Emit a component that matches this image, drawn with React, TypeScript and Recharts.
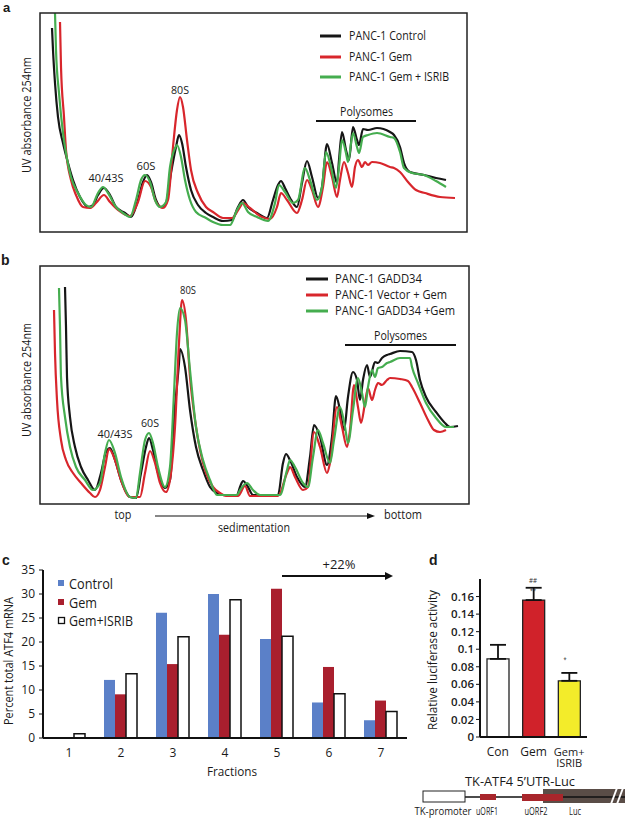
import React from 'react';
import { LineChart, Line, XAxis, YAxis, BarChart, Bar, Cell, ErrorBar } from 'recharts';

// ---------- Panel a: polysome profiles (position along gradient, absorbance, arbitrary units)
const aControl: [number, number][] = [
  [12, 204], [13, 182], [15, 149], [18, 115], [23, 89], [28, 69], [33, 52], [40, 35], [48, 25], [53, 27],
  [58, 37], [64, 44], [70, 37], [76, 25], [85, 19], [91, 15], [98, 32], [103, 50], [107, 57], [111, 50],
  [116, 32], [121, 25], [126, 29], [131, 59], [136, 85], [139, 97], [142, 89], [146, 65], [151, 42], [158, 27],
  [166, 19], [173, 15], [183, 11], [192, 12], [198, 25], [203, 32], [208, 25], [217, 19], [227, 14], [233, 32],
  [238, 47], [241, 51], [245, 44], [250, 34], [257, 25], [262, 49], [267, 71], [272, 55], [278, 34], [282, 45],
  [287, 88], [292, 69], [297, 49], [299, 72], [302, 100], [306, 82], [309, 72], [313, 105], [317, 92], [319, 87],
  [323, 103], [328, 102], [337, 104], [350, 100], [354, 97], [360, 85], [364, 69], [370, 60], [384, 57], [396, 54],
  [406, 52],
];
const aGem: [number, number][] = [
  [20, 210], [21, 165], [24, 115], [26, 82], [31, 52], [36, 37], [43, 25], [50, 24], [56, 29], [64, 37],
  [70, 30], [78, 22], [90, 16], [98, 30], [105, 51], [111, 45], [116, 30], [123, 24], [128, 32], [133, 85],
  [137, 122], [140, 135], [143, 125], [147, 92], [151, 62], [158, 39], [166, 25], [173, 20], [183, 14], [192, 14],
  [200, 25], [203, 29], [210, 24], [222, 15], [230, 13], [237, 25], [241, 39], [247, 32], [257, 19], [262, 32],
  [267, 52], [272, 42], [278, 25], [283, 45], [287, 70], [292, 55], [297, 35], [300, 52], [304, 70], [308, 59],
  [312, 45], [315, 65], [318, 72], [322, 65], [325, 70], [328, 67], [332, 70], [340, 69], [350, 65], [354, 64],
  [360, 60], [368, 50], [376, 42], [385, 39], [400, 35], [415, 34],
];
const aGemIsrib: [number, number][] = [
  [15, 219], [16, 182], [19, 139], [23, 99], [26, 79], [31, 55], [38, 39], [46, 27], [51, 25], [58, 39],
  [63, 45], [68, 39], [76, 25], [83, 19], [90, 15], [96, 32], [101, 52], [105, 57], [110, 50], [115, 32],
  [120, 25], [126, 30], [130, 65], [135, 84], [137, 87], [141, 75], [145, 52], [150, 32], [156, 20], [166, 14],
  [173, 10], [183, 7], [190, 7], [197, 22], [202, 29], [208, 20], [217, 15], [228, 11], [235, 29], [239, 47],
  [245, 40], [253, 29], [258, 32], [265, 64], [270, 52], [277, 32], [282, 45], [286, 80], [291, 65], [296, 44],
  [299, 65], [302, 92], [306, 79], [308, 70], [313, 99], [317, 85], [319, 79], [323, 95], [328, 97], [337, 99],
  [350, 95], [354, 94], [360, 80], [364, 64], [372, 59], [384, 57], [396, 51], [406, 45],
];

// ---------- Panel b
const bGadd34: [number, number][] = [
  [25, 217], [26, 177], [27, 127], [30, 87], [35, 57], [41, 37], [48, 24], [55, 14], [61, 31], [66, 52],
  [70, 56], [75, 44], [81, 24], [90, 7], [96, 6], [101, 31], [106, 57], [109, 66], [113, 54], [118, 31],
  [125, 16], [130, 24], [135, 97], [139, 141], [140, 155], [145, 137], [150, 94], [156, 57], [163, 34], [170, 17],
  [177, 11], [183, 9], [197, 9], [200, 17], [203, 23], [208, 17], [213, 9], [238, 9], [243, 41], [246, 50],
  [250, 44], [257, 27], [265, 17], [270, 47], [274, 79], [280, 67], [287, 39], [292, 67], [296, 108], [300, 94],
  [304, 74], [308, 107], [313, 132], [317, 124], [320, 104], [323, 124], [327, 139], [330, 127], [335, 142], [338, 141],
  [342, 146], [347, 149], [350, 150], [360, 153], [372, 152], [376, 144], [380, 124], [386, 107], [396, 92], [404, 82],
  [410, 77], [418, 78],
];
const bVectorGem: [number, number][] = [
  [14, 194], [15, 151], [17, 104], [21, 64], [26, 44], [33, 31], [41, 21], [50, 11], [55, 7], [60, 14],
  [65, 37], [69, 55], [75, 44], [81, 24], [90, 7], [100, 7], [105, 31], [110, 53], [115, 41], [120, 21],
  [126, 12], [131, 31], [135, 77], [139, 161], [142, 204], [146, 184], [150, 127], [155, 84], [160, 54], [166, 31],
  [173, 17], [180, 11], [186, 8], [198, 8], [205, 18], [210, 8], [238, 8], [247, 31], [250, 37], [255, 27],
  [263, 14], [268, 17], [274, 72], [280, 57], [287, 31], [290, 41], [297, 97], [302, 77], [307, 57], [310, 74],
  [314, 119], [318, 97], [321, 81], [325, 101], [328, 116], [332, 104], [335, 114], [338, 121], [342, 119], [347, 124],
  [350, 126], [360, 125], [368, 123], [372, 117], [380, 101], [388, 84], [394, 74], [400, 72], [406, 74],
];
const bGadd34Gem: [number, number][] = [
  [19, 216], [20, 177], [21, 127], [25, 87], [30, 57], [36, 37], [45, 24], [53, 14], [60, 21], [65, 51],
  [69, 64], [75, 51], [81, 27], [90, 7], [96, 6], [100, 31], [105, 64], [109, 71], [113, 61], [118, 37],
  [125, 17], [130, 37], [134, 111], [137, 171], [140, 196], [145, 184], [150, 134], [156, 77], [163, 44], [170, 24],
  [177, 9], [197, 9], [200, 14], [207, 21], [213, 14], [220, 9], [240, 9], [247, 34], [250, 44], [255, 37],
  [263, 21], [268, 17], [273, 47], [278, 74], [283, 61], [290, 41], [294, 64], [300, 97], [305, 77], [308, 61],
  [313, 94], [318, 126], [322, 111], [325, 97], [328, 117], [332, 134], [335, 127], [338, 136], [342, 137], [347, 141],
  [350, 142], [360, 146], [370, 146], [372, 137], [378, 121], [386, 101], [396, 86], [406, 77], [414, 77],
];

// ---------- Panel c
const fractions = ['1', '2', '3', '4', '5', '6', '7'];
const controlPct = [0.2, 12.1, 26.1, 30, 20.6, 7.4, 3.7];
const gemPct = [0.2, 9.1, 15.4, 21.5, 31.1, 14.8, 7.8];
const isribPct = [0.9, 13.4, 21.1, 28.8, 21.2, 9.2, 5.5];
const cTicks = [0, 5, 10, 15, 20, 25, 30, 35];

// ---------- Panel d
const lucGroups = ['Con', 'Gem', 'Gem+ISRIB'];
const lucMean = [0.089, 0.156, 0.064];
const lucErr = [0.016, 0.014, 0.009];
const lucColors = ['#ffffff', '#d0222a', '#f3ec2a'];
const dTicks = [0, 0.02, 0.04, 0.06, 0.08, 0.1, 0.12, 0.14, 0.16];

const FONT = '"Open Sans", "Noto Sans", sans-serif';
const BLACK = '#161616';
const RED = '#d8262c';
const GREEN = '#45ad4f';

const pts = (arr: [number, number][]) => arr.map(([x, y]) => ({ x, y }));

const cData = fractions.map((f, i) => ({ f, control: controlPct[i], gem: gemPct[i], isrib: isribPct[i] }));
const dData = lucGroups.map((g, i) => ({ g, v: lucMean[i], err: [0, lucErr[i]] }));

type TProps = {
  x: number; y: number; children: React.ReactNode; size?: number; len?: number;
  anchor?: 'start' | 'middle' | 'end'; weight?: number | string; rot?: boolean; family?: string; fill?: string;
};
const T = ({ x, y, children, size = 12, len, anchor = 'start', weight = 400, rot, family = FONT, fill = '#1a1a1a' }: TProps) => (
  <text
    x={x}
    y={y}
    fontSize={size}
    fontFamily={family}
    fontWeight={weight}
    textAnchor={anchor}
    fill={fill}
    textLength={len}
    lengthAdjust={len ? 'spacingAndGlyphs' : undefined}
    transform={rot ? `rotate(-90, ${x}, ${y})` : undefined}
  >
    {children}
  </text>
);

const Profile = ({ series, w, h, ymax }: { series: { d: [number, number][]; c: string }[]; w: number; h: number; ymax: number }) => (
  <LineChart width={w} height={h} margin={{ top: 0, right: 0, bottom: 0, left: 0 }}>
    <XAxis type="number" dataKey="x" domain={[0, w]} hide allowDataOverflow />
    <YAxis type="number" dataKey="y" domain={[0, ymax]} hide allowDataOverflow />
    {series.map((s, i) => (
      <Line
        key={i}
        data={pts(s.d)}
        dataKey="y"
        type="monotone"
        stroke={s.c}
        strokeWidth={2.2}
        dot={false}
        activeDot={false}
        isAnimationActive={false}
        strokeLinejoin="round"
      />
    ))}
  </LineChart>
);

const LucTick = (props: any) => {
  const { x, y, payload } = props;
  const lines = payload.value === 'Gem+ISRIB' ? ['Gem+', 'ISRIB'] : [payload.value];
  return (
    <g>
      {lines.map((l: string, i: number) => (
        <text key={i} x={x} y={y + 11 + i * 11} textAnchor="middle" fontSize={lines.length > 1 ? 11 : 12} fontFamily={FONT} fill="#1a1a1a">
          {l}
        </text>
      ))}
    </g>
  );
};

export default function App() {
  const abs: React.CSSProperties = { position: 'absolute' };
  const BOLD = '"Liberation Sans", Arial, sans-serif';
  return (
    <div style={{ position: 'absolute', left: 0, top: 0, width: 625, height: 820, background: '#fff', overflow: 'hidden' }}>
      <div style={{ ...abs, left: 40, top: 13 }}>
        <Profile w={427} h={219} ymax={219} series={[{ d: aControl, c: BLACK }, { d: aGem, c: RED }, { d: aGemIsrib, c: GREEN }]} />
      </div>
      <div style={{ ...abs, left: 40, top: 266 }}>
        <Profile w={429} h={238} ymax={238} series={[{ d: bGadd34, c: BLACK }, { d: bVectorGem, c: RED }, { d: bGadd34Gem, c: GREEN }]} />
      </div>

      <div style={{ ...abs, left: 0, top: 560 }}>
        <BarChart width={415} height={208} data={cData} margin={{ top: 10, right: 8, bottom: 0, left: 0 }} barCategoryGap={9} barGap={0}>
          <XAxis dataKey="f" height={30} tickLine={false} tickMargin={4} axisLine={{ stroke: '#111', strokeWidth: 2 }}
            tick={{ fontSize: 12, fontFamily: FONT, fill: '#1a1a1a' }} />
          <YAxis width={43} domain={[0, 35]} ticks={cTicks} tickSize={4} tickMargin={4}
            axisLine={{ stroke: '#111', strokeWidth: 2 }} tickLine={{ stroke: '#111' }}
            tick={{ fontSize: 12, fontFamily: FONT, fill: '#1a1a1a' }} />
          <Bar dataKey="control" fill="#5b80c8" isAnimationActive={false} />
          <Bar dataKey="gem" fill="#a91f2e" isAnimationActive={false} />
          <Bar dataKey="isrib" fill="#ffffff" stroke="#111" strokeWidth={1.5} isAnimationActive={false} />
        </BarChart>
      </div>

      <div style={{ ...abs, left: 425, top: 569 }}>
        <BarChart width={170} height={203} data={dData} margin={{ top: 10, right: 8, bottom: 0, left: 0 }} barCategoryGap={7}>
          <XAxis dataKey="g" height={35} tickLine={false} axisLine={{ stroke: '#111', strokeWidth: 2 }} tick={<LucTick />} interval={0} />
          <YAxis width={55} domain={[0, 0.18]} ticks={dTicks} tickSize={4} tickMargin={2}
            axisLine={{ stroke: '#111', strokeWidth: 2 }} tickLine={{ stroke: '#111' }}
            tick={{ fontSize: 11.5, fontFamily: FONT, fill: '#1a1a1a', fontWeight: 600 }} />
          <Bar dataKey="v" stroke="#222" strokeWidth={1.3} isAnimationActive={false}>
            {dData.map((_, i) => (
              <Cell key={i} fill={lucColors[i]} />
            ))}
            <ErrorBar dataKey="err" direction="y" width={8} stroke="#111" strokeWidth={1.8} />
          </Bar>
        </BarChart>
      </div>

      <svg width={625} height={820} style={{ ...abs, left: 0, top: 0, pointerEvents: 'none' }}>
        {/* Panel a */}
        <T x={3} y={12} size={13} weight={700} family={BOLD}>a</T>
        <rect x={40} y={13} width={427} height={219} fill="none" stroke="#222" strokeWidth={1.5} />
        <T x={31} y={115} size={12} len={116} anchor="middle" rot>UV absorbance 254nm</T>
        <line x1={320} y1={36} x2={341} y2={36} stroke={BLACK} strokeWidth={3} />
        <line x1={320} y1={57} x2={341} y2={57} stroke={RED} strokeWidth={3} />
        <line x1={320} y1={77} x2={341} y2={77} stroke={GREEN} strokeWidth={3} />
        <T x={349} y={40} size={12} len={77}>PANC-1 Control</T>
        <T x={349} y={61} size={12} len={63}>PANC-1 Gem</T>
        <T x={349} y={81} size={12} len={100}>PANC-1 Gem + ISRIB</T>
        <T x={106} y={182} size={11} len={35} anchor="middle">40/43S</T>
        <T x={146} y={170} size={11} len={19} anchor="middle">60S</T>
        <T x={180} y={94} size={11} len={18} anchor="middle">80S</T>
        <T x={340} y={116} size={12} len={53}>Polysomes</T>
        <line x1={316} y1={121} x2={416} y2={121} stroke="#111" strokeWidth={2} />

        {/* Panel b */}
        <T x={1} y={265} size={14} weight={700} family={BOLD}>b</T>
        <rect x={40} y={266} width={429} height={238} fill="none" stroke="#222" strokeWidth={1.5} />
        <T x={31} y={380} size={12} len={114} anchor="middle" rot>UV absorbance 254nm</T>
        <line x1={306} y1={279} x2={328} y2={279} stroke={BLACK} strokeWidth={3} />
        <line x1={306} y1={295} x2={328} y2={295} stroke={RED} strokeWidth={3} />
        <line x1={306} y1={311} x2={328} y2={311} stroke={GREEN} strokeWidth={3} />
        <T x={335} y={283} size={12} len={87}>PANC-1 GADD34</T>
        <T x={335} y={299} size={12} len={112}>PANC-1 Vector + Gem</T>
        <T x={335} y={315} size={12} len={120}>PANC-1 GADD34 +Gem</T>
        <T x={115} y={438} size={11} len={35} anchor="middle">40/43S</T>
        <T x={150} y={427} size={11} len={18} anchor="middle">60S</T>
        <T x={188} y={294} size={11} len={16} anchor="middle">80S</T>
        <T x={374} y={340} size={12} len={53}>Polysomes</T>
        <line x1={345} y1={345} x2={456} y2={345} stroke="#111" strokeWidth={2} />
        <T x={123} y={519} size={12} len={17} anchor="middle">top</T>
        <line x1={155} y1={516} x2={370} y2={516} stroke="#111" strokeWidth={1.2} />
        <polygon points="375,516 367,513 367,519" fill="#111" />
        <T x={403} y={519} size={12} len={38} anchor="middle">bottom</T>
        <T x={254} y={532} size={12} len={72} anchor="middle">sedimentation</T>

        {/* Panel c */}
        <T x={2} y={565} size={14} weight={700} family={BOLD}>c</T>
        <T x={339} y={569} size={13} len={33} anchor="middle">+22%</T>
        <line x1={282} y1={576} x2={387} y2={576} stroke="#111" strokeWidth={2} />
        <polygon points="393,576 385,572 385,580" fill="#111" />
        <rect x={58} y={580} width={6} height={6} fill="#5b80c8" />
        <rect x={58} y={599} width={6} height={6} fill="#a91f2e" />
        <rect x={58.5} y={617.5} width={6} height={6} fill="#fff" stroke="#111" strokeWidth={1.3} />
        <T x={69} y={589} size={14} len={44}>Control</T>
        <T x={69} y={608} size={14} len={28}>Gem</T>
        <T x={69} y={626} size={14} len={64}>Gem+ISRIB</T>
        <T x={13} y={661} size={13} len={128} anchor="middle" rot>Percent total ATF4 mRNA</T>
        <T x={232} y={776} size={13} len={50} anchor="middle">Fractions</T>

        {/* Panel d */}
        <T x={429} y={565} size={14} weight={700} family={BOLD}>d</T>
        <T x={437} y={660} size={13} len={140} anchor="middle" rot>Relative luciferase activity</T>
        <T x={533} y={583} size={7} len={8} anchor="middle" fill="#333">##</T>
        <T x={533} y={593} size={8} len={6} anchor="middle" fill="#333">**</T>
        <T x={565} y={662} size={8} len={3} anchor="middle" fill="#333">*</T>
        <T x={520} y={786} size={12} len={110} anchor="middle">TK-ATF4 5’UTR-Luc</T>
        <polygon points="543,789 625,789 625,803 543,803" fill="#5a4d47" />
        <line x1={465} y1={797} x2={625} y2={797} stroke="#111" strokeWidth={1.5} />
        <rect x={423} y={791} width={42} height={11} fill="#fff" stroke="#222" strokeWidth={1} />
        <rect x={480} y={794} width={16} height={6} fill="#a8262b" />
        <rect x={522} y={794} width={41} height={7} fill="#a8262b" />
        <line x1={611} y1={804} x2={617} y2={788} stroke="#fff" strokeWidth={2} />
        <line x1={617} y1={804} x2={623} y2={788} stroke="#fff" strokeWidth={2} />
        <T x={443} y={815} size={10} len={57} anchor="middle">TK-promoter</T>
        <T x={487} y={815} size={10} len={22} anchor="middle">uORF1</T>
        <T x={536} y={815} size={10} len={23} anchor="middle">uORF2</T>
        <T x={575} y={815} size={10} len={12} anchor="middle">Luc</T>
      </svg>
    </div>
  );
}
